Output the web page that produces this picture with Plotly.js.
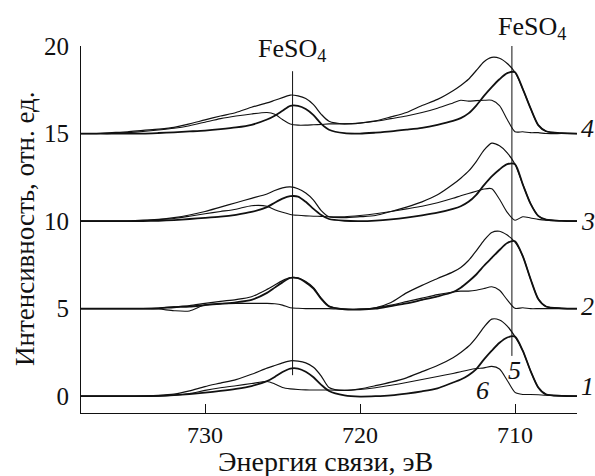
<!DOCTYPE html>
<html>
<head>
<meta charset="utf-8">
<script src="https://cdn.plot.ly/plotly-3.0.1.min.js"></script>
<style>html,body{margin:0;padding:0;background:#fff;}#chart{width:595px;height:476px;}</style>
</head>
<body>
<div id="chart"></div>
<script>
// Binding energy grid (eV)
const energy = [738,737,736,735,734,733,732,731,730,729,728,727,726,725.5,725,724.5,724,723.5,723,722.5,722,721,720,719,718,717,716,715,714,713.5,713,712.5,712,711.5,711,710.5,710,709.5,709,708.5,708,707,706];

// Vertical offsets of the spectra 1..4
const offsets = [0, 5, 10, 15];
const spectrumLabels = ["1", "2", "3", "4"];

// Measured spectra (relative to their offset)
const raw1 = [0,0,0,0,0.02,0.05,0.12,0.3,0.55,0.75,0.95,1.25,1.6,1.75,1.9,2.02,2.0,1.9,1.65,1.15,0.5,0.33,0.42,0.6,0.8,1.05,1.4,1.75,2.2,2.5,2.85,3.35,3.95,4.4,4.35,4.0,3.4,2.6,1.45,0.5,0.1,0.02,0];
const raw2 = [0,0,0,0,0,0.03,0.1,0.17,0.3,0.42,0.52,0.68,1.1,1.35,1.6,1.77,1.75,1.55,1.2,0.6,0.15,-0.03,-0.04,0.05,0.35,0.9,1.33,1.72,2.1,2.35,2.75,3.3,3.9,4.35,4.42,4.2,3.8,3.0,1.7,0.55,0.12,0.02,0];
const raw3 = [0,0,0,0,0.05,0.1,0.2,0.35,0.55,0.8,1.05,1.3,1.55,1.75,1.9,1.95,1.85,1.6,1.2,0.6,0.25,0.2,0.25,0.32,0.55,0.8,1.1,1.5,2.1,2.45,2.85,3.4,4.05,4.45,4.3,3.9,3.25,2.1,1.0,0.3,0.08,0.02,0];
const raw4 = [0,0,0.05,0.1,0.18,0.25,0.35,0.55,0.78,1.0,1.2,1.5,1.75,1.9,2.05,2.2,2.15,2.0,1.65,1.1,0.7,0.55,0.6,0.72,0.95,1.2,1.6,1.95,2.45,2.75,3.1,3.6,4.1,4.35,4.3,4.0,3.5,2.55,1.45,0.48,0.13,0.02,0];

// Component 5 (FeSO4, smooth)
const comp5_1 = [0,0,0,0,0,0.02,0.06,0.12,0.2,0.3,0.42,0.58,0.86,1.1,1.38,1.58,1.58,1.4,1.08,0.65,0.3,0.05,-0.02,0,0.05,0.15,0.28,0.45,0.78,0.95,1.2,1.55,2.1,2.6,3.05,3.35,3.4,2.6,1.45,0.5,0.1,0.02,0];
const comp5_2 = [0,0,0,0,0,0.02,0.08,0.12,0.2,0.28,0.36,0.5,0.9,1.2,1.5,1.75,1.74,1.5,1.15,0.55,0.12,-0.04,-0.05,0,0.15,0.3,0.5,0.7,0.95,1.2,1.55,1.95,2.45,2.9,3.35,3.75,3.85,3.0,1.7,0.55,0.12,0.02,0];
const comp5_3 = [0,0,0,0,0,0.02,0.06,0.12,0.18,0.25,0.36,0.52,0.8,1.05,1.28,1.42,1.4,1.1,0.7,0.35,0.12,0.02,0,0.03,0.1,0.2,0.33,0.48,0.7,0.85,1.1,1.5,2.05,2.55,2.95,3.25,3.25,2.1,1.0,0.3,0.08,0.01,0];
const comp5_4 = [0,0,0,0,0,0.03,0.07,0.12,0.17,0.25,0.35,0.5,0.8,1.02,1.3,1.58,1.58,1.4,1.05,0.55,0.22,0.02,0,0.05,0.12,0.22,0.33,0.5,0.72,0.88,1.15,1.6,2.15,2.65,3.1,3.45,3.5,2.55,1.45,0.48,0.13,0.02,0];

// Component 6 (difference)
const comp6_1 = [0,0,0,0,0,0,0.05,0.15,0.33,0.48,0.6,0.72,0.84,0.7,0.5,0.42,0.38,0.36,0.35,0.35,0.35,0.33,0.38,0.48,0.62,0.78,0.95,1.12,1.3,1.4,1.5,1.58,1.62,1.7,1.55,0.9,0.22,0.1,0.1,0.08,0.05,0.03,0];
const comp6_2 = [0,0,0,0,0,-0.02,-0.12,-0.13,0.22,0.28,0.3,0.3,0.3,0.28,0.2,0.05,0.02,0,0,0,0,-0.03,-0.03,0.05,0.2,0.4,0.6,0.8,0.95,1.0,1.0,1.05,1.15,1.25,1.05,0.5,0.02,0.05,0,0,0,0,0];
const comp6_3 = [0,0,0,0,0.03,0.08,0.15,0.28,0.42,0.55,0.68,0.88,0.85,0.65,0.5,0.38,0.33,0.3,0.28,0.27,0.25,0.25,0.32,0.42,0.55,0.7,0.85,1.05,1.3,1.45,1.58,1.7,1.83,1.85,1.25,0.5,0.05,0.25,0.18,0.1,0.05,0.02,0];
const comp6_4 = [0,0,0,0.05,0.12,0.2,0.3,0.45,0.65,0.85,1.0,1.12,1.2,1.1,0.8,0.55,0.48,0.48,0.5,0.52,0.55,0.55,0.6,0.7,0.85,1.0,1.2,1.45,1.75,1.9,1.85,1.88,1.9,1.9,1.6,0.8,0.1,0.1,0.05,0.05,0,0,0];

// Reference lines (FeSO4) and their vertical extents
const refEnergies = [724.35, 710.2];
const refBottoms = [1.2, 2.3];
const refTops = [18.56, 20];
const refLabel = "FeSO<sub>4</sub>";

const xTicks = [730, 720, 710];
const yTicks = [0, 5, 10, 15, 20];
const xTitle = "Энергия связи, эВ";
const yTitle = "Интенсивность, отн. ед.";

const raws = [raw1, raw2, raw3, raw4];
const c5 = [comp5_1, comp5_2, comp5_3, comp5_4];
const c6 = [comp6_1, comp6_2, comp6_3, comp6_4];

const FONT = "Liberation Serif";
const traces = [];
for (let g = 0; g < 4; g++) {
  const off = offsets[g];
  const sets = [[c6[g], 1.1], [c5[g], 1.8], [raws[g], 1.2]];
  sets.forEach(([arr, w]) => {
    traces.push({
      x: energy, y: arr.map(v => v + off), mode: "lines", type: "scatter",
      line: {color: "#111", width: w, shape: "spline", smoothing: 0.7},
      hoverinfo: "skip", showlegend: false
    });
  });
}

const shapes = refEnergies.map((e, i) => ({
  type: "line", xref: "x", yref: "y", x0: e, x1: e, y0: refBottoms[i], y1: refTops[i],
  line: {color: "#111", width: 1}
}));

const f = s => ({family: FONT, size: s, color: "#111"});
const annotations = [];
annotations.push({xref: "paper", yref: "paper", x: (292-81)/496, y: (413-50)/367, text: refLabel, showarrow: false, font: f(26), xanchor: "center", yanchor: "middle"});
annotations.push({xref: "paper", yref: "paper", x: (532-81)/496, y: (413-28)/367, text: refLabel, showarrow: false, font: f(26), xanchor: "center", yanchor: "middle"});
const sideLabelY = [0.53, 5.14, 10.0, 15.27];
for (let g = 0; g < 4; g++) {
  annotations.push({xref: "paper", yref: "y", x: 1.022, y: sideLabelY[g], text: "<i>" + spectrumLabels[g] + "</i>", showarrow: false, font: f(26), xanchor: "center", yanchor: "middle"});
}
annotations.push({xref: "x", yref: "y", x: 710.03, y: 1.47, text: "<i>5</i>", showarrow: false, font: f(26), xanchor: "center", yanchor: "middle"});
annotations.push({xref: "x", yref: "y", x: 712.1, y: 0.3, text: "<i>6</i>", showarrow: false, font: f(26), xanchor: "center", yanchor: "middle"});
annotations.push({xref: "paper", yref: "paper", x: (25-81)/496, y: (413-229)/367, text: yTitle, textangle: -90, showarrow: false, font: f(27), xanchor: "center", yanchor: "middle"});
annotations.push({xref: "paper", yref: "paper", x: (325-81)/496, y: (413-461)/367, text: xTitle, showarrow: false, font: f(28), xanchor: "center", yanchor: "middle"});

const layout = {
  width: 595, height: 476,
  margin: {l: 81, r: 18, t: 46, b: 63},
  paper_bgcolor: "#fff", plot_bgcolor: "#fff",
  font: f(24),
  xaxis: {
    range: [738, 706], tickvals: xTicks, ticktext: xTicks.map(String),
    ticks: "inside", ticklen: 9, tickwidth: 1, tickcolor: "#111",
    showline: true, linecolor: "#111", linewidth: 1, showgrid: false, zeroline: false,
    tickfont: f(24), automargin: false
  },
  yaxis: {
    range: [-0.96, 20], tickvals: yTicks, ticktext: yTicks.map(String),
    ticks: "inside", ticklen: 9, tickwidth: 1, tickcolor: "#111",
    showline: true, linecolor: "#111", linewidth: 1, showgrid: false, zeroline: false,
    tickfont: f(25), ticklabelstandoff: 6, automargin: false
  },
  shapes: shapes,
  annotations: annotations
};

Plotly.newPlot("chart", traces, layout, {staticPlot: true, displayModeBar: false});
</script>
</body>
</html>
